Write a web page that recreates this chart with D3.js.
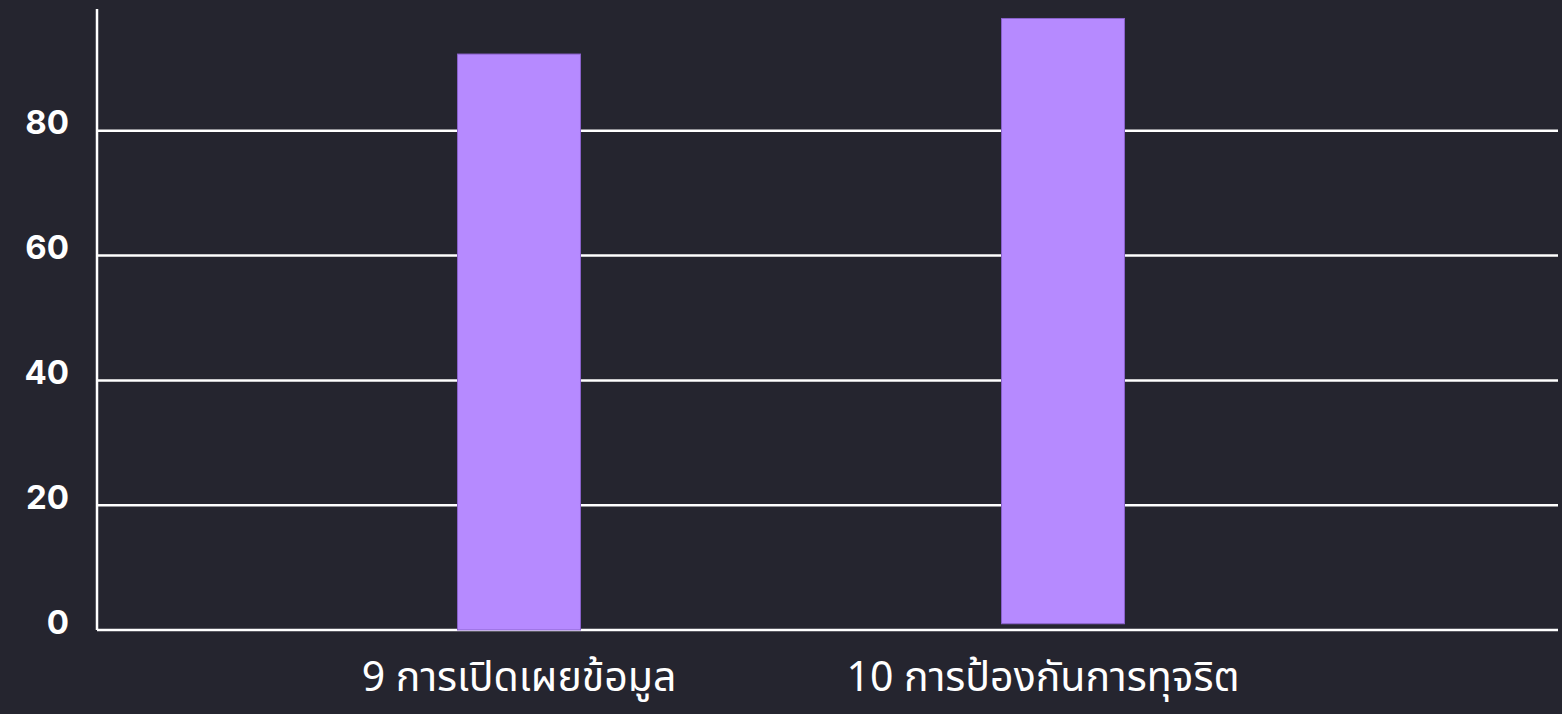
<!DOCTYPE html>
<html>
<head>
<meta charset="utf-8">
<script src="https://cdn.jsdelivr.net/npm/d3@7"></script>
<style>
  html, body { margin: 0; padding: 0; background: #25252f; }
  svg { display: block; }
</style>
</head>
<body>
<svg id="chart" width="1562" height="714"></svg>
<script>
// chart data
const categories = ["9 การเปิดเผยข้อมูล", "10 การป้องกันการทุจริต"];
const values = [92.3, 98.0];
const bases = [0, 1];
const yTicks = [0, 20, 40, 60, 80];

var width = 1562, height = 714;
var svg = d3.select("#chart");

// y scale: 0 sits on the baseline, axis runs up to ~100
var y = d3.scaleLinear().domain([0, 100]).range([630, 6]);

// x scale, bars placed in the middle of the plot
var x = d3
  .scaleBand()
  .domain(categories)
  .range([247, 1335])
  .paddingInner(0.774)
  .paddingOuter(0.387);

// gridlines
svg
  .append("g")
  .selectAll("line")
  .data(yTicks)
  .enter()
  .append("line")
  .attr("x1", 97)
  .attr("x2", 1558)
  .attr("y1", (d) => y(d))
  .attr("y2", (d) => y(d))
  .attr("stroke", "#ffffff")
  .attr("stroke-width", 2.5);

// y axis line
svg
  .append("line")
  .attr("x1", 97)
  .attr("x2", 97)
  .attr("y1", y(99.5))
  .attr("y2", y(0))
  .attr("stroke", "#ffffff")
  .attr("stroke-width", 2.5);

// y labels
svg
  .append("g")
  .selectAll("text")
  .data(yTicks)
  .enter()
  .append("text")
  .attr("x", 69)
  .attr("y", (d) => y(d) - 8)
  .attr("dy", "0.35em")
  .attr("text-anchor", "end")
  .attr("fill", "#ffffff")
  .style("font-family", "Inter, 'Noto Sans', sans-serif")
  .style("font-weight", "bold")
  .style("font-size", "33px")
  .text((d) => d);

// bars
svg
  .append("g")
  .selectAll("rect")
  .data(categories)
  .enter()
  .append("rect")
  .attr("x", (d) => x(d))
  .attr("width", x.bandwidth())
  .attr("y", (d, i) => y(values[i]))
  .attr("height", (d, i) => y(bases[i]) - y(values[i]))
  .attr("fill", "#b68aff")
  .attr("stroke", "#8a62cc")
  .attr("stroke-width", 1);

// x labels
svg
  .append("g")
  .selectAll("text")
  .data(categories)
  .enter()
  .append("text")
  .attr("x", (d, i) => x(d) + x.bandwidth() / 2 - i * 20)
  .attr("y", 691)
  .attr("text-anchor", "middle")
  .attr("fill", "#ffffff")
  .style("font-family", "'Noto Sans Thai', 'Noto Sans', sans-serif")
  .style("font-size", "41px")
  .text((d) => d);
</script>
</body>
</html>
